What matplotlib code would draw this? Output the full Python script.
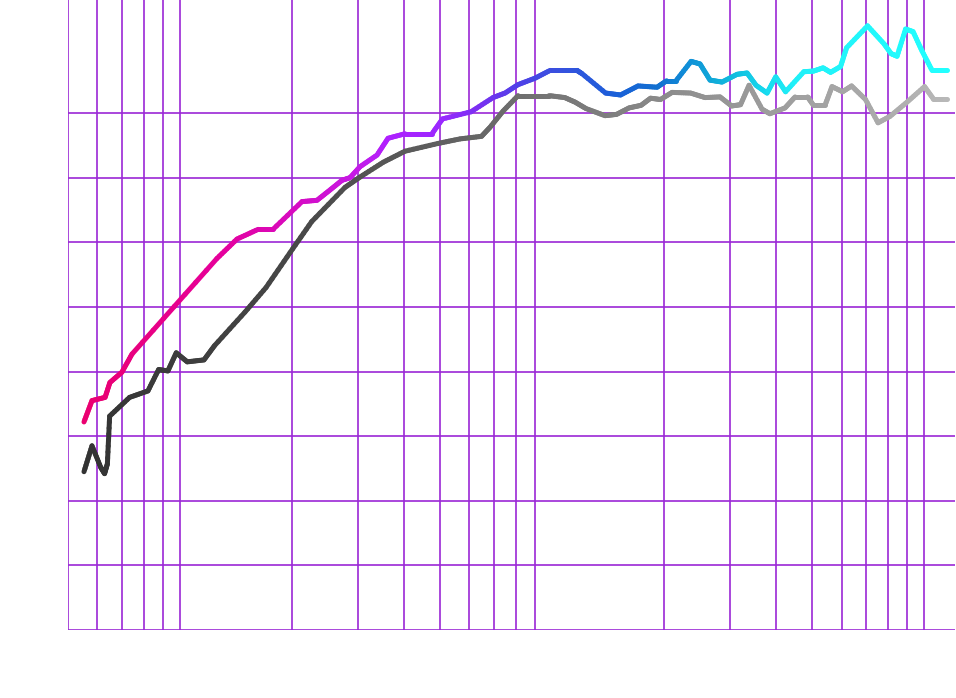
import numpy as np
import matplotlib
matplotlib.use("Agg")
import matplotlib.pyplot as plt
from matplotlib.collections import LineCollection
from matplotlib.colors import LinearSegmentedColormap

# ---- data (x on log scale, y linear) ----
color_x = [0.552, 0.580, 0.629, 0.648, 0.698, 0.743, 1.257, 1.423, 1.621, 1.778,
           2.128, 2.335, 2.531, 2.726, 2.864, 3.047, 3.385, 3.624, 4.025, 4.757,
           5.078, 6.057, 6.940, 7.477, 8.102, 9.001, 9.877, 11.67, 12.04, 13.93,
           15.28, 17.03, 19.16, 20.32, 21.54, 23.64, 24.99, 26.59, 28.64, 31.43,
           33.44, 35.35, 37.84, 39.93, 42.44, 47.50, 50.47, 53.52, 56.07, 59.64,
           61.90, 70.48, 78.08, 81.54, 84.61, 89.19, 93.42, 98.76, 105.1, 115.3]
color_y = [32.2, 35.5, 36.0, 38.3, 39.9, 42.7, 57.5, 60.5, 62.0, 62.0,
           66.3, 66.5, 68.1, 69.6, 70.0, 71.7, 73.5, 76.1, 76.8, 76.8,
           79.1, 80.2, 82.4, 83.1, 84.4, 85.4, 86.6, 86.6, 86.1, 83.1,
           82.8, 84.2, 84.0, 85.0, 85.0, 88.0, 87.6, 85.1, 84.8, 86.0,
           86.2, 84.3, 83.1, 85.6, 83.3, 86.4, 86.5, 87.0, 86.3, 87.2,
           90.1, 93.5, 90.7, 89.2, 88.8, 93.0, 92.6, 89.6, 86.6, 86.6]

gray_x = [0.552, 0.580, 0.612, 0.627, 0.638, 0.647, 0.732, 0.820, 0.876, 0.928,
          0.977, 1.046, 1.160, 1.238, 1.495, 1.703, 1.976, 2.259, 2.777, 3.047,
          3.520, 4.025, 4.938, 5.656, 6.464, 6.813, 7.384, 8.102, 9.816, 10.82,
          11.53, 12.34, 13.88, 14.91, 16.11, 17.35, 18.40, 19.57, 21.02, 23.57,
          25.78, 28.29, 30.38, 32.12, 33.85, 36.69, 38.51, 42.30, 45.00, 48.63,
          50.30, 54.25, 56.57, 60.39, 63.85, 69.61, 75.20, 81.02, 90.01, 100.3,
          105.9, 115.3]
gray_y = [24.5, 28.5, 25.2, 24.2, 25.7, 33.1, 36.0, 37.0, 40.3, 40.1,
          42.9, 41.5, 41.8, 44.0, 49.2, 53.0, 58.4, 63.2, 68.5, 70.1,
          72.4, 74.1, 75.3, 76.0, 76.4, 77.8, 80.3, 82.7, 82.7, 82.4,
          81.7, 80.7, 79.6, 79.8, 80.8, 81.2, 82.3, 82.1, 83.2, 83.1,
          82.4, 82.5, 81.1, 81.3, 84.3, 80.6, 79.9, 80.8, 82.5, 82.5,
          81.3, 81.3, 84.1, 83.3, 84.2, 82.1, 78.5, 79.5, 81.7, 84.1,
          82.2, 82.2]

x_grid = [0.6, 0.7, 0.8, 0.9, 1, 2, 3, 4, 5, 6, 7, 8, 9,
          20, 30, 40, 50, 60, 70, 80, 90, 100]
y_grid = [10, 20, 30, 40, 50, 60, 70, 80]

x_min, x_max = 0.5, 121.1
y_min, y_max = 0, 97.5

color_stops = [(0.000, "#ea0070"), (0.154, "#e6009a"), (0.250, "#d60cc4"),
               (0.320, "#c41ae8"), (0.352, "#b020ff"), (0.415, "#9a28ff"),
               (0.459, "#7a30f2"), (0.505, "#5040e8"), (0.540, "#3c4ee0"),
               (0.620, "#1a60d8"), (0.667, "#1270d0"), (0.703, "#1090d8"),
               (0.730, "#10a8d8"), (0.760, "#10c0e0"), (0.795, "#18dcf0"),
               (0.825, "#20f0f8"), (1.000, "#22ffff")]
gray_stops = [(0.00, "#333333"), (0.25, "#484848"), (0.459, "#666666"),
              (0.55, "#777777"), (0.62, "#808080"), (0.69, "#8e8e8e"),
              (0.77, "#999999"), (0.83, "#a0a0a0"), (0.92, "#aaaaaa"),
              (1.00, "#b8b8b8")]

grid_color = "#9b27d6"

fig = plt.figure(figsize=(9.56, 6.98), dpi=100)
ax = fig.add_axes([68 / 956, 68 / 698, 887 / 956, 630 / 698])
ax.set_xscale("log")
ax.set_xlim(x_min, x_max)
ax.set_ylim(y_min, y_max)
for s in ax.spines.values():
    s.set_visible(False)
ax.set_xticks([])
ax.set_yticks([])
ax.minorticks_off()

for xv in [x_min] + x_grid:
    ax.axvline(xv, color=grid_color, lw=1.2, zorder=1)
for yv in [y_min] + y_grid:
    ax.axhline(yv, color=grid_color, lw=1.2, zorder=1)


def gradient_line(xs, ys, stops, z):
    cmap = LinearSegmentedColormap.from_list("g", stops)
    xs = np.asarray(xs, float)
    ys = np.asarray(ys, float)
    lx = np.log10(xs)
    # subdivide segments for a smooth gradient
    fx, fy = [], []
    for i in range(len(xs) - 1):
        t = np.linspace(0, 1, 8, endpoint=False)
        fx.extend(10 ** (lx[i] + (lx[i + 1] - lx[i]) * t))
        fy.extend(ys[i] + (ys[i + 1] - ys[i]) * t)
    fx.append(xs[-1])
    fy.append(ys[-1])
    fx = np.array(fx)
    fy = np.array(fy)
    pts = np.column_stack([fx, fy]).reshape(-1, 1, 2)
    segs = np.concatenate([pts[:-1], pts[1:]], axis=1)
    lf = np.log10(fx)
    mid = (lf[:-1] + lf[1:]) / 2
    norm = (mid - lf.min()) / (lf.max() - lf.min())
    lc = LineCollection(segs, colors=cmap(norm), linewidths=3.6,
                        capstyle="round", joinstyle="round", zorder=z)
    ax.add_collection(lc)


gradient_line(gray_x, gray_y, gray_stops, 3)
gradient_line(color_x, color_y, color_stops, 4)

fig.savefig("out.png", dpi=100)
